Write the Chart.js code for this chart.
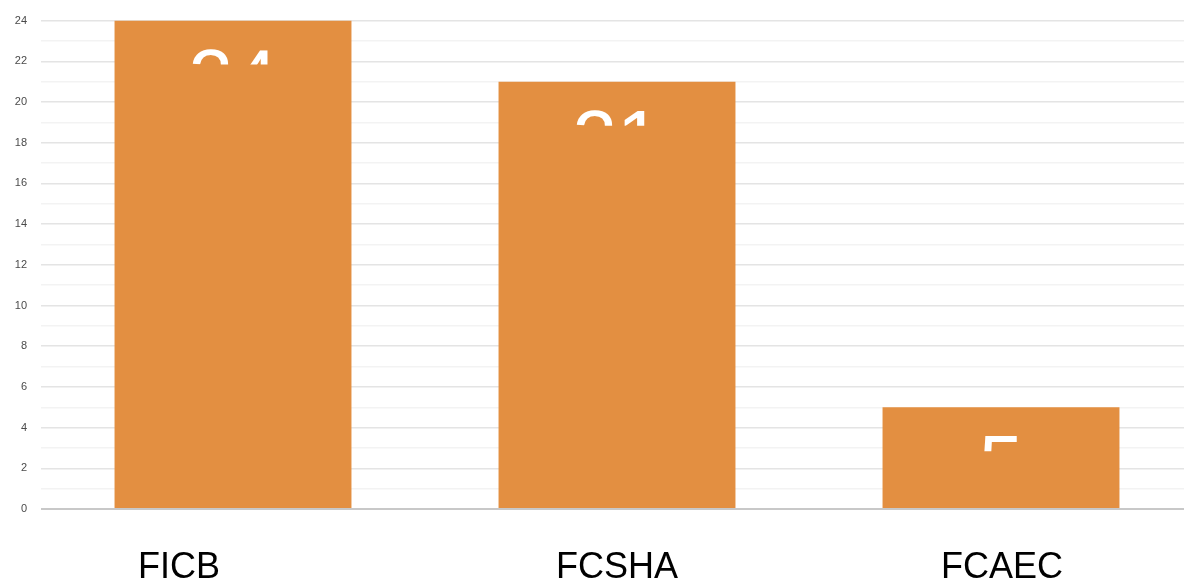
<!DOCTYPE html>
<html lang="en">
  <head>
    <meta charset="UTF-8" />
    <title>Bar chart</title>
    <style>
      html, body { margin: 0; padding: 0; background: #fff; overflow: hidden; }
      #wrap { position: relative; width: 1193px; height: 580px; }
    </style>
  </head>
  <body>
    <div id="wrap"><canvas id="chart"></canvas></div>
    <script src="https://cdn.jsdelivr.net/npm/chart.js"></script>
    <script>
      const categories = ['FICB', 'FCSHA', 'FCAEC'];
      const values = [24, 21, 5];
      const yMax = 24;

      // horizontal nudge of each category label, in px
      const labelShift = [-54, 0, 1];

      const barLabels = {
        id: 'barLabels',
        afterDatasetsDraw(chart) {
          const ctx = chart.ctx;
          const meta = chart.getDatasetMeta(0);
          ctx.save();
          ctx.fillStyle = '#ffffff';
          ctx.font = '80px "Liberation Sans", Arial, sans-serif';
          ctx.textAlign = 'center';
          ctx.textBaseline = 'alphabetic';
          meta.data.forEach((bar, i) => {
            ctx.save();
            ctx.beginPath();
            ctx.rect(bar.x - bar.width / 2, bar.y, bar.width, 44);
            ctx.clip();
            ctx.fillText(String(values[i]), bar.x, bar.y + 84);
            ctx.restore();
          });
          ctx.restore();
        }
      };

      const catLabels = {
        id: 'catLabels',
        afterDraw(chart) {
          const ctx = chart.ctx;
          const x = chart.scales.x;
          ctx.save();
          ctx.fillStyle = '#000000';
          ctx.font = '36px "Liberation Sans", Arial, sans-serif';
          ctx.textAlign = 'center';
          ctx.textBaseline = 'alphabetic';
          categories.forEach((c, i) => {
            ctx.fillText(c, x.getPixelForValue(i) + labelShift[i], 578);
          });
          ctx.restore();
        }
      };

      new Chart(document.getElementById('chart'), {
        type: 'bar',
        data: {
          labels: categories,
          datasets: [{
            data: values,
            backgroundColor: '#e38f41',
            barPercentage: 0.617,
            categoryPercentage: 1
          }]
        },
        options: {
          responsive: true,
          maintainAspectRatio: false,
          animation: false,
          layout: { padding: { top: 20, bottom: 63, left: 0, right: 0 } },
          plugins: { legend: { display: false }, tooltip: { enabled: false } },
          scales: {
            x: {
              ticks: { display: false },
              grid: { display: false },
              border: { display: false }
            },
            y: {
              min: 0,
              max: yMax,
              afterFit(scale) { scale.width = 41; },
              border: { display: false },
              ticks: {
                stepSize: 1,
                padding: 14,
                color: '#4a4a4a',
                font: { family: '"Liberation Sans", Arial, sans-serif', size: 11 },
                callback: (v) => (v % 2 === 0 ? v : '')
              },
              grid: {
                drawTicks: false,
                color: (c) => c.tick.value === 0 ? '#c8c8c8' : (c.tick.value % 2 === 0 ? '#e4e4e4' : '#f3f3f3'),
                lineWidth: (c) => c.tick.value === 0 ? 2 : 1.5
              }
            }
          }
        },
        plugins: [barLabels, catLabels]
      });
    </script>
  </body>
</html>
